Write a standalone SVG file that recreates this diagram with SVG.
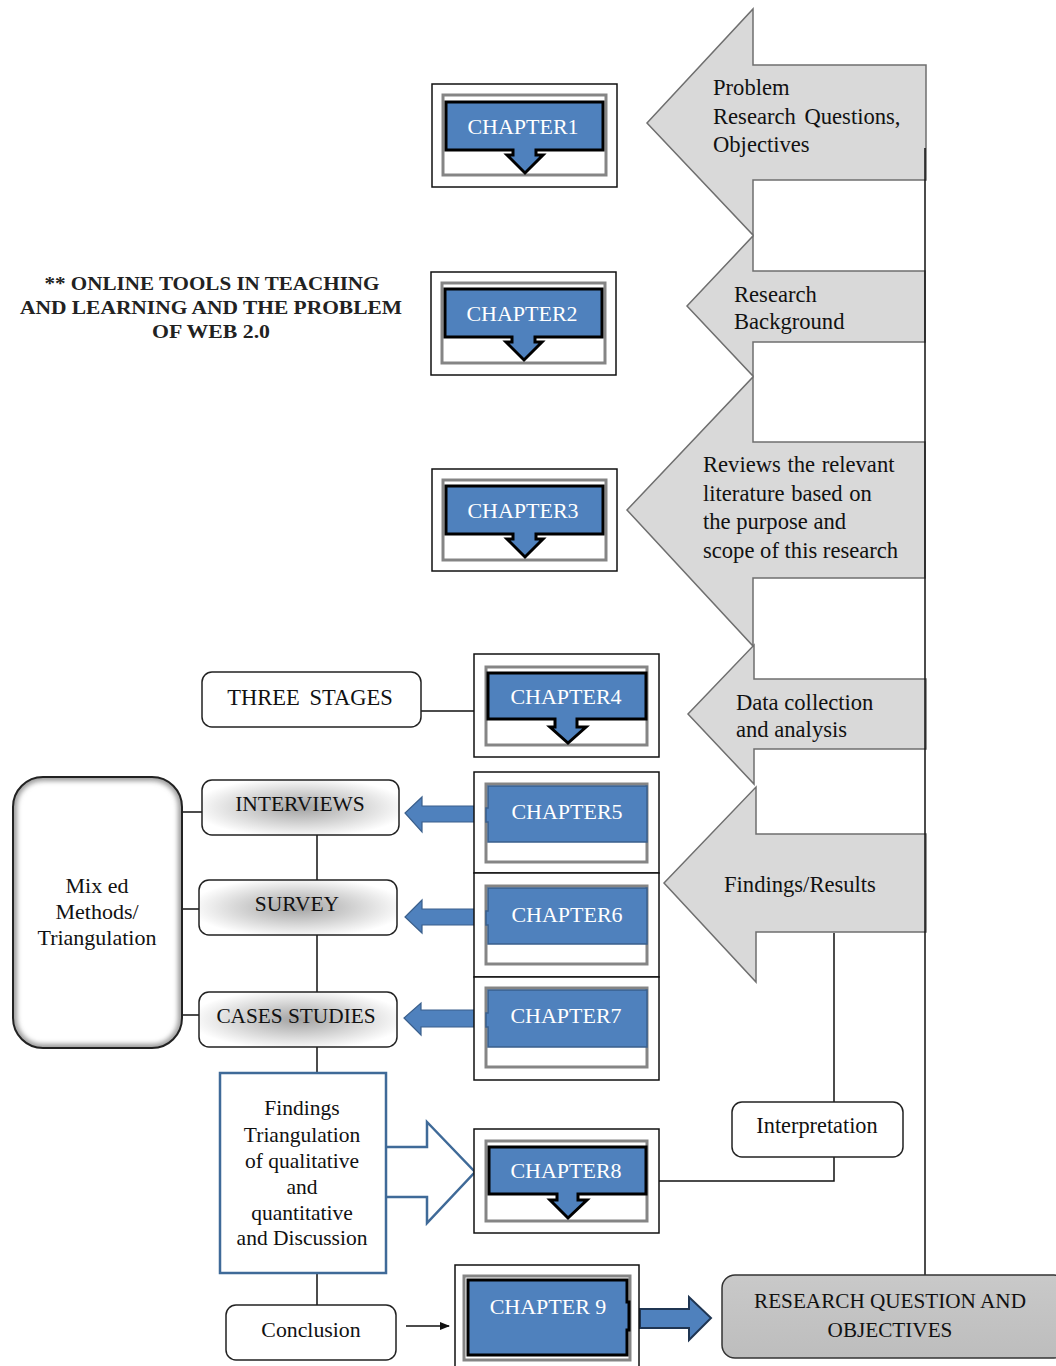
<svg xmlns="http://www.w3.org/2000/svg" width="1056" height="1366" viewBox="0 0 1056 1366" font-family="'Liberation Serif', 'DejaVu Serif', serif">
<style>
text{font-family:'Liberation Serif','DejaVu Serif',serif;fill:#111}
.ct{font-size:22px;fill:#fff;text-anchor:middle}
.outer{fill:#fff;stroke:#111;stroke-width:1.5}
.inner{fill:#fff;stroke:#858585;stroke-width:3}
.blueK{fill:#4f81bd;stroke:#000;stroke-width:3;stroke-linejoin:miter}
.blueB{fill:#4f81bd;stroke:#3a5f8c;stroke-width:1.5}
.garrow{fill:#d9d9d9;stroke:#6f6f6f;stroke-width:1.5}
.at{font-size:22.6px}
.line{stroke:#111;stroke-width:1.5;fill:none}
.gbox{fill:url(#rg);stroke:#222;stroke-width:1.5}
.wbox{fill:#fff;stroke:#222;stroke-width:1.5}
.bt{font-size:21.5px;text-anchor:middle}
.larrow{fill:#4f81bd;stroke:#3a5f8c;stroke-width:1.2}
.tt{font-size:18px;font-weight:bold;text-anchor:middle;fill:#222}
</style>
<defs>
<radialGradient id="rg" cx="50%" cy="50%" r="55%">
<stop offset="0" stop-color="#a3a3a3"/>
<stop offset="1" stop-color="#ffffff"/>
</radialGradient>
<linearGradient id="rqg" x1="0" y1="0" x2="0" y2="1">
<stop offset="0" stop-color="#c9c9c9"/>
<stop offset="1" stop-color="#bdbdbd"/>
</linearGradient>
<filter id="blur" x="-10%" y="-10%" width="120%" height="120%"><feGaussianBlur stdDeviation="2.5"/></filter>
<clipPath id="mmclip"><rect x="13" y="777" width="169" height="271" rx="30"/></clipPath>
<marker id="ah" viewBox="0 0 10 10" refX="9" refY="5" markerWidth="7" markerHeight="7" orient="auto"><path d="M0,1 L10,5 L0,9 Z" fill="#111"/></marker>
</defs>

<!-- Right side gray block arrows -->
<g id="arrow-problem">
<polygon class="garrow" points="753,9 753,65 926,65 926,180 753,180 753,235 647,123"/>
<text class="at" x="713" y="95">Problem</text>
<text class="at" x="713" y="124" word-spacing="3">Research Questions,</text>
<text class="at" x="713" y="152">Objectives</text>
</g>
<g id="arrow-background">
<polygon class="garrow" points="753,236 753,271 925,271 925,342 753,342 753,376 687,306"/>
<text class="at" x="734" y="302">Research</text>
<text class="at" x="734" y="329">Background</text>
</g>
<g id="arrow-literature">
<polygon class="garrow" points="753,377 753,442 925,442 925,578 753,578 753,646 627,510"/>
<text class="at" x="703" y="472" word-spacing="1">Reviews the relevant</text>
<text class="at" x="703" y="501" word-spacing="1">literature based on</text>
<text class="at" x="703" y="529">the purpose and</text>
<text class="at" x="703" y="558">scope of this research</text>
</g>
<g id="arrow-data">
<polygon class="garrow" points="754,645 754,679 926,679 926,749 754,749 754,784 688,714"/>
<text class="at" x="736" y="710">Data collection</text>
<text class="at" x="736" y="737">and analysis</text>
</g>
<g id="arrow-findings">
<polygon class="garrow" points="756,787 756,834 926,834 926,932 756,932 756,982 664,883"/>
<text class="at" x="724" y="892">Findings/Results</text>
</g>

<!-- Connectors -->
<g id="connectors">
<line class="line" x1="925" y1="148" x2="925" y2="1275" stroke-width="2"/>
<line class="line" x1="834" y1="933" x2="834" y2="1102"/>
<polyline class="line" points="834,1157 834,1181 659,1181"/>
<line class="line" x1="421" y1="711" x2="474" y2="711"/>
<line class="line" x1="182" y1="812" x2="202" y2="812"/>
<line class="line" x1="182" y1="909" x2="199" y2="909"/>
<line class="line" x1="182" y1="1015" x2="199" y2="1015"/>
<line class="line" x1="317" y1="835" x2="317" y2="880"/>
<line class="line" x1="317" y1="935" x2="317" y2="992"/>
<line class="line" x1="317" y1="1047" x2="317" y2="1073"/>
<line class="line" x1="317" y1="1273" x2="317" y2="1305"/>
<line class="line" x1="406" y1="1326" x2="449" y2="1326" marker-end="url(#ah)"/>
<polygon class="larrow" points="475,806 422,806 422,797 405,813 422,832 422,822 475,822"/>
<polygon class="larrow" points="475,909 422,909 422,900 405,917 422,933 422,925 475,925"/>
<polygon class="larrow" points="475,1010 421,1010 421,1003 404,1018 421,1035 421,1027 475,1027"/>
<polygon fill="#4f81bd" stroke="#1f3552" stroke-width="2" points="640,1309 689,1309 689,1297 711,1318 689,1340 689,1328 640,1328"/>
<path d="M386,1147 H427 V1122 L475,1172 L427,1223 V1197 H386" fill="#fff" stroke="#3f6a98" stroke-width="2.5"/>
</g>

<!-- Top-left title -->
<g id="title">
<text class="tt" x="212" y="290" textLength="335" lengthAdjust="spacingAndGlyphs">** ONLINE TOOLS IN TEACHING</text>
<text class="tt" x="211" y="314" textLength="382" lengthAdjust="spacingAndGlyphs">AND LEARNING AND THE PROBLEM</text>
<text class="tt" x="211" y="338" textLength="118" lengthAdjust="spacingAndGlyphs">OF WEB 2.0</text>
</g>

<!-- Chapters with down arrow -->
<g id="chapter1" transform="translate(432,84)">
<rect class="outer" x="0" y="0" width="185" height="103"/>
<rect class="inner" x="11" y="11" width="163" height="80"/>
<path class="blueK" d="M14,18 H171 V66 H104 V71 H111 L93,89 L75,71 H81 V66 H14 Z"/>
<text class="ct" x="91" y="50">CHAPTER1</text>
</g>
<g id="chapter2" transform="translate(431,272)">
<rect class="outer" x="0" y="0" width="185" height="103"/>
<rect class="inner" x="11" y="11" width="163" height="80"/>
<path class="blueK" d="M14,17 H171 V65 H104 V70 H111 L93,88 L75,70 H81 V65 H14 Z"/>
<text class="ct" x="91" y="49">CHAPTER2</text>
</g>
<g id="chapter3" transform="translate(432,469)">
<rect class="outer" x="0" y="0" width="185" height="102"/>
<rect class="inner" x="11" y="11" width="163" height="80"/>
<path class="blueK" d="M14,17 H171 V65 H104 V70 H111 L93,88 L75,70 H81 V65 H14 Z"/>
<text class="ct" x="91" y="49">CHAPTER3</text>
</g>
<g id="chapter4" transform="translate(474,654)">
<rect class="outer" x="0" y="0" width="185" height="103"/>
<rect class="inner" x="12" y="13" width="161" height="78"/>
<path class="blueK" d="M14,19 H172 V65 H103 V73 H112 L94,89 L76,73 H81 V65 H14 Z"/>
<text class="ct" x="92" y="50">CHAPTER4</text>
</g>
<g id="chapter8" transform="translate(474,1129)">
<rect class="outer" x="0" y="0" width="185" height="104"/>
<rect class="inner" x="12" y="12" width="161" height="80"/>
<path class="blueK" d="M15,18 H172 V65 H104 V71 H113 L94,89 L76,71 H83 V65 H15 Z"/>
<text class="ct" x="92" y="49">CHAPTER8</text>
</g>

<!-- Chapters with left arrow callout -->
<g id="chapter5" transform="translate(474,772)">
<rect class="outer" x="0" y="0" width="185" height="101"/>
<rect class="inner" x="12" y="12" width="161" height="78"/>
<path class="blueB" d="M14,14 H173 V70 H14 V50 H12 V36 H14 Z"/>
<text class="ct" x="93" y="47">CHAPTER5</text>
</g>
<g id="chapter6" transform="translate(474,873)">
<rect class="outer" x="0" y="0" width="185" height="104"/>
<rect class="inner" x="12" y="13" width="161" height="78"/>
<path class="blueB" d="M14,15 H173 V71 H14 V52 H12 V38 H14 Z"/>
<text class="ct" x="93" y="49">CHAPTER6</text>
</g>
<g id="chapter7" transform="translate(474,977)">
<rect class="outer" x="0" y="0" width="185" height="103"/>
<rect class="inner" x="12" y="11" width="161" height="79"/>
<path class="blueB" d="M14,13 H173 V70 H14 V50 H12 V36 H14 Z"/>
<text class="ct" x="92" y="46">CHAPTER7</text>
</g>

<!-- Chapter 9 -->
<g id="chapter9">
<rect class="outer" x="455" y="1265" width="184" height="110"/>
<rect class="inner" x="464" y="1276" width="166" height="84"/>
<path class="blueK" d="M468,1280 H627 V1302 H629 V1330 H627 V1355 H468 Z"/>
<text class="ct" x="548" y="1314">CHAPTER 9</text>
</g>

<!-- Left side nodes -->
<g id="three-stages">
<rect class="wbox" x="202" y="672" width="219" height="55" rx="10"/>
<text class="bt" x="310" y="705" style="font-size:22.5px" word-spacing="4">THREE STAGES</text>
</g>
<g id="mixed-methods">
<rect x="13" y="777" width="169" height="271" rx="30" fill="#fff"/>
<g clip-path="url(#mmclip)"><rect x="13" y="777" width="169" height="271" rx="30" fill="none" stroke="#9a9a9a" stroke-width="8" filter="url(#blur)"/></g>
<rect x="13" y="777" width="169" height="271" rx="30" fill="none" stroke="#222" stroke-width="2"/>
<text class="bt" x="97" y="893" style="font-size:22px">Mix ed</text>
<text class="bt" x="97" y="919" style="font-size:22px">Methods/</text>
<text class="bt" x="97" y="945" style="font-size:22px">Triangulation</text>
</g>
<g id="interviews">
<rect class="gbox" x="202" y="780" width="197" height="55" rx="10"/>
<text class="bt" x="300" y="811">INTERVIEWS</text>
</g>
<g id="survey">
<rect class="gbox" x="199" y="880" width="198" height="55" rx="10"/>
<text class="bt" x="297" y="911">SURVEY</text>
</g>
<g id="cases-studies">
<rect class="gbox" x="199" y="992" width="198" height="55" rx="10"/>
<text class="bt" x="296" y="1023" style="font-size:21.3px">CASES STUDIES</text>
</g>
<g id="findings-box">
<rect x="220" y="1073" width="166" height="200" fill="#fff" stroke="#3f6a98" stroke-width="2.5"/>
<text class="bt" x="302" y="1115" style="font-size:21.5px">Findings</text>
<text class="bt" x="302" y="1142" style="font-size:21.5px">Triangulation</text>
<text class="bt" x="302" y="1168" style="font-size:21.5px">of qualitative</text>
<text class="bt" x="302" y="1194" style="font-size:21.5px">and</text>
<text class="bt" x="302" y="1220" style="font-size:21.5px">quantitative</text>
<text class="bt" x="302" y="1245" style="font-size:21.5px">and Discussion</text>
</g>
<g id="conclusion">
<rect class="wbox" x="226" y="1305" width="170" height="55" rx="10"/>
<text class="bt" x="311" y="1337" style="font-size:21.8px">Conclusion</text>
</g>
<g id="interpretation">
<rect class="wbox" x="732" y="1102" width="171" height="55" rx="10"/>
<text class="bt" x="817" y="1133" style="font-size:22.3px">Interpretation</text>
</g>
<g id="research-question">
<rect x="722" y="1275" width="345" height="83" rx="13" fill="url(#rqg)" stroke="#333" stroke-width="1.5"/>
<text class="bt" x="890" y="1308" style="font-size:21.2px">RESEARCH QUESTION AND</text>
<text class="bt" x="890" y="1337" style="font-size:21.2px">OBJECTIVES</text>
</g>
</svg>
